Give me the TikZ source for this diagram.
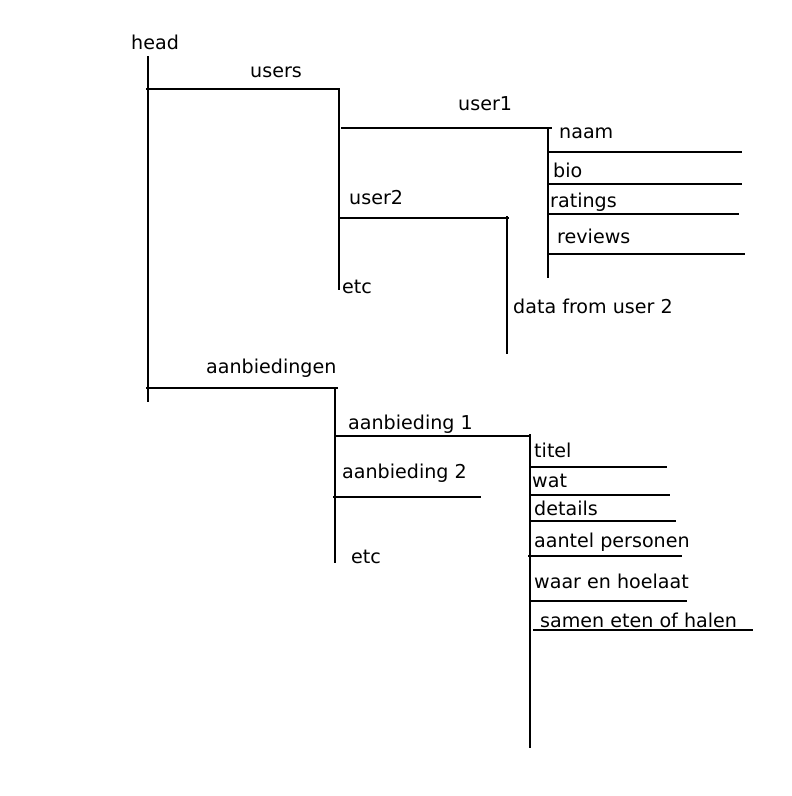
\documentclass[tikz,border=0pt]{standalone}
\usepackage{fontspec}
\setmainfont{DejaVu Sans}
\begin{document}
\begin{tikzpicture}[x=1pt,y=-1pt,
  lbl/.style={anchor=base west,inner sep=0pt,font=\fontsize{19.1}{23}\selectfont},
  ln/.style={line width=1.8pt,black}]
\useasboundingbox[fill=white] (0,0) rectangle (792,796);
% labels
\node[lbl] (head) at (131,49) {head};
\node[lbl] (users) at (250,77) {users};
\node[lbl] (user1) at (458,110) {user1};
\node[lbl] (user2) at (349,204) {user2};
\node[lbl] (etc1) at (342,293) {etc};
\node[lbl] (data2) at (513,313) {data from user 2};
\node[lbl] (naam) at (559,138) {naam};
\node[lbl] (bio) at (553,177) {bio};
\node[lbl] (ratings) at (550,207) {ratings};
\node[lbl] (reviews) at (557,243) {reviews};
\node[lbl] (aanb) at (206,373) {aanbiedingen};
\node[lbl] (a1) at (348,429) {aanbieding 1};
\node[lbl] (a2) at (342,478) {aanbieding 2};
\node[lbl] (etc2) at (351,563) {etc};
\node[lbl] (titel) at (534,457) {titel};
\node[lbl] (wat) at (532,487) {wat};
\node[lbl] (details) at (534,515) {details};
\node[lbl] (aantel) at (534,547) {aantel personen};
\node[lbl] (waar) at (534,588) {waar en hoelaat};
\node[lbl] (samen) at (540,627) {samen eten of halen};
% tree lines
\draw[ln] (148,56) -- (148,402);
\draw[ln] (146,89) -- (340,89);
\draw[ln] (339,89) -- (339,290);
\draw[ln] (341,128) -- (552,128);
\draw[ln] (548,128) -- (548,278);
\draw[ln] (547,152) -- (742,152);
\draw[ln] (548,184) -- (742,184);
\draw[ln] (549,214) -- (739,214);
\draw[ln] (548,254) -- (745,254);
\draw[ln] (339,218) -- (509,218);
\draw[ln] (507,216) -- (507,354);
\draw[ln] (146,388) -- (338,388);
\draw[ln] (335,388) -- (335,563);
\draw[ln] (336,436) -- (530,436);
\draw[ln] (530,434) -- (530,748);
\draw[ln] (333,497) -- (481,497);
\draw[ln] (530,467) -- (667,467);
\draw[ln] (530,495) -- (670,495);
\draw[ln] (530,521) -- (676,521);
\draw[ln] (528,556) -- (682,556);
\draw[ln] (530,601) -- (687,601);
\draw[ln] (533,630) -- (753,630);
\end{tikzpicture}
\end{document}
